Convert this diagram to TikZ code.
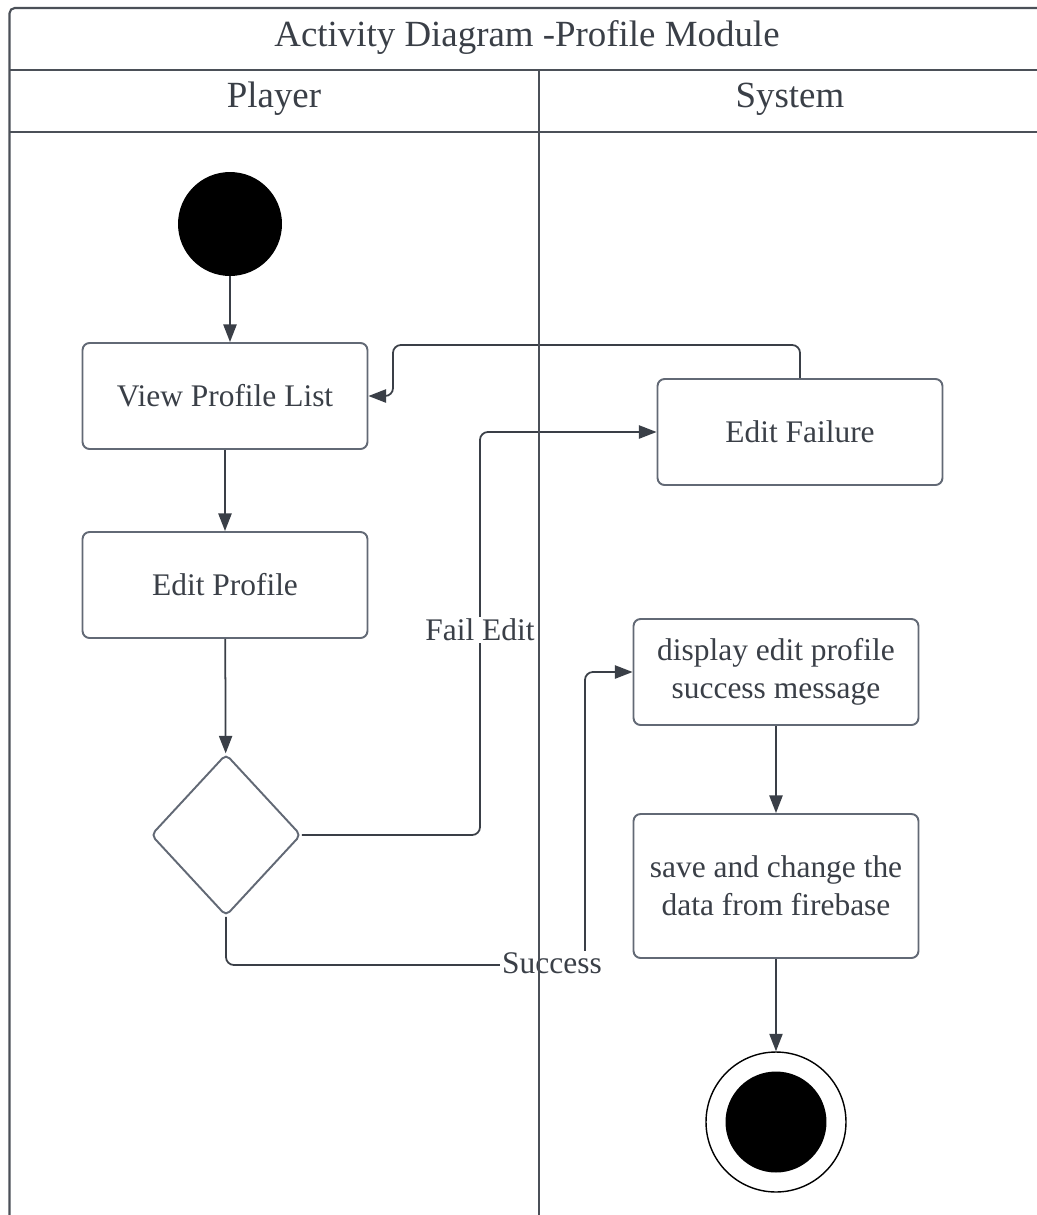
\documentclass[tikz,border=0pt]{standalone}
\usepackage{fontspec}
\setmainfont{Liberation Serif}
\usetikzlibrary{shapes.geometric,arrows.meta}
\definecolor{ink}{HTML}{3A3F47}
\definecolor{rim}{HTML}{626975}
\definecolor{lane}{HTML}{4B5058}

\begin{document}
\begin{tikzpicture}[x=0.02cm,y=-0.02cm,
    act/.style={draw=rim,line width=1.1pt,rounded corners=4pt,text=ink,align=center,
      minimum width=5.7cm,minimum height=2.12cm,inner sep=0pt,
      font=\fontsize{17.9}{21.5}\selectfont},
    choice/.style={diamond,draw=rim,line width=1.1pt,rounded corners=3pt,
      minimum width=3cm,minimum height=3.24cm,inner sep=0pt},
    start/.style={circle,fill=black,minimum size=2.08cm,inner sep=0pt},
    flow/.style={draw=ink,line width=1pt,rounded corners=4.5pt,
      -{Triangle[length=10pt,width=7.5pt]}},
    lbl/.style={fill=white,text=ink,inner sep=1pt,font=\fontsize{17.9}{21.5}\selectfont},
    head/.style={text=ink,font=\fontsize{21}{25}\selectfont},
    swim/.style={draw=lane,line width=1.2pt}]
\useasboundingbox (0,0) rectangle (1036,1215);

\node[head] (title) at (527,37) {Activity Diagram -Profile Module};
\node[head] (player) at (274,99) {Player};
\node[head] (system) at (790,99) {System};

\node[start] (init) at (230,224) {};
\node[act] (view) at (225,396) {View Profile List};
\node[act] (edit) at (225,585) {Edit Profile};
\node[choice] (check) at (226,835) {};
\node[act] (fail) at (800,432) {Edit Failure};
\node[act] (done) at (776,672) {display edit profile\\success message};
\node[act,minimum height=2.88cm] (save) at (776,886) {save and change the\\data from firebase};
\node[circle,draw=black,line width=0.8pt,minimum size=2.8cm,inner sep=0pt] (stop) at (776,1122) {};
\node[circle,fill=black,minimum size=2.02cm,inner sep=0pt] (stopdot) at (stop) {};

\coordinate (failbend) at (480,432);
\coordinate (succlow) at (585,965);
\coordinate (succbend) at (585,672);
\coordinate (backtop) at (393,345);

\draw[flow] (init) -- (init |- view.north);
\draw[flow] (view) -- (edit);
\draw[flow] (edit) -- (check);
\draw[flow] (check.east) -| (failbend) -- (fail.west);
\draw[flow] (check.south) |- (succlow) -- (succbend) -- (done.west);
\draw[flow] (fail.north) |- (backtop) |- (view.east);
\draw[flow] (done) -- (save);
\draw[flow] (save) -- (stop);
\node[lbl] (faillbl) at (480,630) {Fail Edit};
\node[lbl] (succlbl) at (552,963) {Success};

% swimlanes
\draw[swim,rounded corners=3pt] (1040,8) -- (9.5,8) -- (9.5,1220);
\draw[swim] (9.5,70) -- (1040,70)
            (9.5,132) -- (1040,132)
            (539,70) -- (539,1220);
\end{tikzpicture}
\end{document}
